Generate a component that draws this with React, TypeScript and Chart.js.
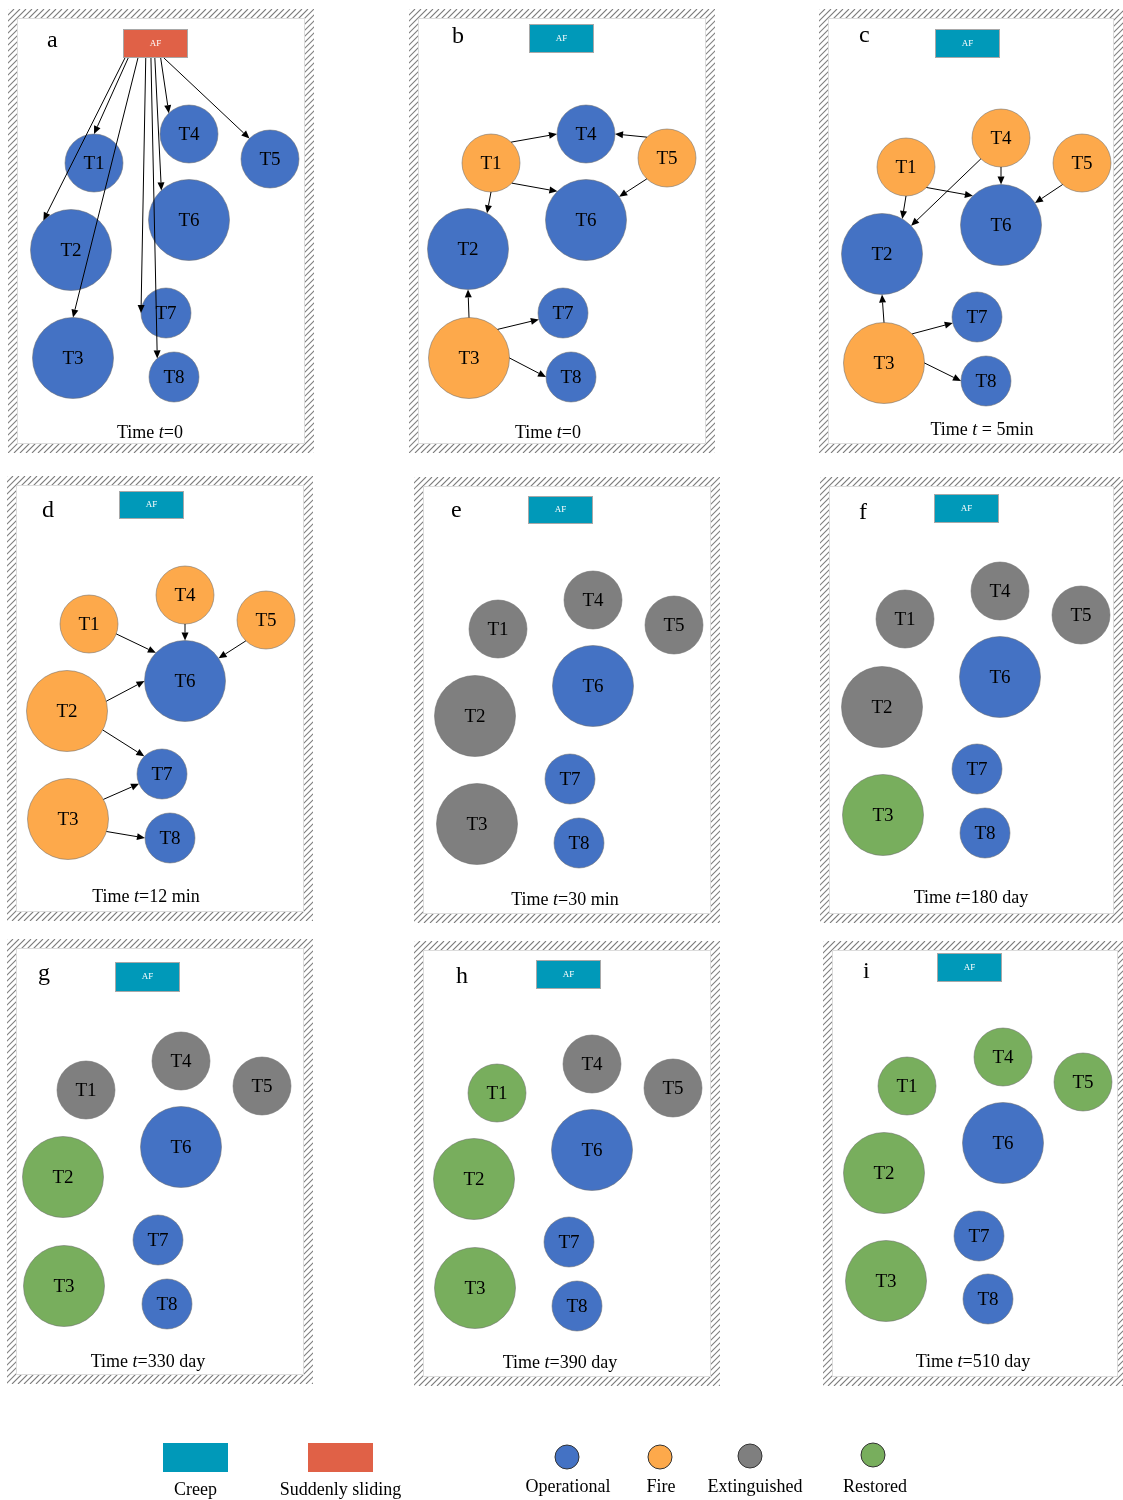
import React, { useEffect, useRef } from "react";
import { Chart, registerables, BubbleController } from "chart.js";

Chart.register(...registerables);
// keep the chart area equal to the whole canvas (no automatic padding for bubble radii)
(BubbleController.prototype as any).getMaxOverflow = function () {
  return false;
};

const W = 1123;
const H = 1500;
const SERIF = "'Liberation Serif', 'Times New Roman', serif";

// ---------- data ----------
const nodeNames = ["T1", "T2", "T3", "T4", "T5", "T6", "T7", "T8"];
const nodeRadius = [29, 40.5, 40.5, 29, 29, 40.5, 25, 25];
const panelLetters = ["a", "b", "c", "d", "e", "f", "g", "h", "i"];
const timeSuffixes = ["=0", "=0", " = 5min", "=12 min", "=30 min", "=180 day", "=330 day", "=390 day", "=510 day"];
const afTriggers = ["Suddenly sliding", "Creep", "Creep", "Creep", "Creep", "Creep", "Creep", "Creep", "Creep"];

const stateNames = ["Operational", "Fire", "Extinguished", "Restored"];
const stateColors = ["#4472C4", "#FDA94B", "#7F7F7F", "#78AE5D"];
const triggerNames = ["Creep", "Suddenly sliding"];
const triggerColors = ["#0099B9", "#E06147"];

// states per panel, T1..T8 (O=Operational, F=Fire, E=Extinguished, R=Restored)
const statesA = ["O", "O", "O", "O", "O", "O", "O", "O"];
const statesB = ["F", "O", "F", "O", "F", "O", "O", "O"];
const statesC = ["F", "O", "F", "F", "F", "O", "O", "O"];
const statesD = ["F", "F", "F", "F", "F", "O", "O", "O"];
const statesE = ["E", "E", "E", "E", "E", "O", "O", "O"];
const statesF = ["E", "E", "R", "E", "E", "O", "O", "O"];
const statesG = ["E", "R", "R", "E", "E", "O", "O", "O"];
const statesH = ["R", "R", "R", "E", "E", "O", "O", "O"];
const statesI = ["R", "R", "R", "R", "R", "O", "O", "O"];
const panelStates = [statesA, statesB, statesC, statesD, statesE, statesF, statesG, statesH, statesI];

// node centres per panel, T1..T8
const nodesA = [[94, 163], [71, 250], [73, 358], [189, 134], [270, 159], [189, 220], [166, 313], [174, 377]];
const nodesB = [[491, 163], [468, 249], [469, 358], [586, 134], [667, 158], [586, 220], [563, 313], [571, 377]];
const nodesC = [[906, 167], [882, 254], [884, 363], [1001, 138], [1082, 163], [1001, 225], [977, 317], [986, 381]];
const nodesD = [[89, 624], [67, 711], [68, 819], [185, 595], [266, 620], [185, 681], [162, 774], [170, 838]];
const nodesE = [[498, 629], [475, 716], [477, 824], [593, 600], [674, 625], [593, 686], [570, 779], [579, 843]];
const nodesF = [[905, 619], [882, 707], [883, 815], [1000, 591], [1081, 615], [1000, 677], [977, 769], [985, 833]];
const nodesG = [[86, 1090], [63, 1177], [64, 1286], [181, 1061], [262, 1086], [181, 1147], [158, 1240], [167, 1304]];
const nodesH = [[497, 1093], [474, 1179], [475, 1288], [592, 1064], [673, 1088], [592, 1150], [569, 1242], [577, 1306]];
const nodesI = [[907, 1086], [884, 1173], [886, 1281], [1003, 1057], [1083, 1082], [1003, 1143], [979, 1236], [988, 1299]];
const panelNodes = [nodesA, nodesB, nodesC, nodesD, nodesE, nodesF, nodesG, nodesH, nodesI];

// layout: frames [x0, y0, x1, y1]
const panelFrames = [
  [8, 9, 314, 453], [409, 9, 715, 453], [819, 9, 1123, 453],
  [7, 476, 313, 921], [414, 477, 720, 923], [820, 477, 1123, 923],
  [7, 939, 313, 1384], [414, 941, 720, 1386], [823, 941, 1127, 1386],
];
const afBoxes = [
  [123, 29, 188, 58], [529, 24, 594, 53], [935, 29, 1000, 58],
  [119, 491, 184, 519], [528, 496, 593, 524], [934, 494, 999, 523],
  [115, 962, 180, 992], [536, 960, 601, 989], [937, 953, 1002, 982],
];
const letterPos = [[47, 47], [452, 43], [859, 42], [42, 517], [451, 517], [859, 519], [38, 980], [456, 983], [863, 978]];
const timePos = [[150, 433], [548, 433], [982, 430], [146, 897], [565, 900], [971, 898], [148, 1362], [560, 1363], [973, 1362]];

// arrows: panel a from AF box [target, fraction along AF bottom, landing angle]
const arrowsA = [["T2", 0.03, -133], ["T1", 0.08, -90], ["T3", 0.23, -90], ["T7", 0.35, 180], ["T8", 0.43, -132], ["T6", 0.49, -133], ["T4", 0.58, -134], ["T5", 0.63, -135]];
// other panels [from, to, leaving angle, landing angle]
const arrowsB = [["T1", "T4", -46, 180], ["T1", "T6", 44, -135], ["T5", "T4", -134, 0], ["T5", "T6", 134, -35], ["T1", "T2", 90, -62], ["T3", "T2", -90, 90], ["T3", "T7", -45, 165], ["T3", "T8", 0, 180]];
const arrowsC = [["T1", "T6", 45, -134], ["T1", "T2", 90, -60], ["T4", "T2", 134, -44], ["T4", "T6", 90, -90], ["T5", "T6", 132, -33], ["T3", "T2", -90, 90], ["T3", "T7", -46, 166], ["T3", "T8", 0, 180]];
const arrowsD = [["T1", "T6", 20, -136], ["T4", "T6", 90, -90], ["T5", "T6", 134, -34], ["T2", "T6", -14, 180], ["T2", "T7", 28, -135], ["T3", "T7", -29, 157], ["T3", "T8", 18, 180]];
const panelArrows = [null, arrowsB, arrowsC, arrowsD, null, null, null, null, null];

const legendTriggerPos = [[163, 1443, 228, 1472], [308, 1443, 373, 1472]];
const legendStatePos = [[567, 1457], [660, 1457], [750, 1456], [873, 1455]];
const legendLabelY = 1489;

const stateCode = ["O", "F", "E", "R"];

function buildDatasets() {
  return stateNames.map((name, si) => {
    const data: any[] = [];
    panelNodes.forEach((nodes, p) => {
      nodes.forEach((c, i) => {
        if (panelStates[p][i] === stateCode[si]) data.push({ x: c[0], y: c[1], r: nodeRadius[i] });
      });
    });
    return {
      label: name,
      data,
      backgroundColor: stateColors[si],
      borderColor: "rgba(110,110,110,0.55)",
      borderWidth: 1,
      hoverRadius: 0,
      clip: false,
    };
  });
}

function drawArrow(ctx: CanvasRenderingContext2D, x1: number, y1: number, x2: number, y2: number) {
  const ang = Math.atan2(y2 - y1, x2 - x1);
  const L = 8, hw = 3.5;
  const bx = x2 - L * Math.cos(ang), by = y2 - L * Math.sin(ang);
  ctx.beginPath();
  ctx.moveTo(x1, y1);
  ctx.lineTo(bx, by);
  ctx.strokeStyle = "#000";
  ctx.lineWidth = 1;
  ctx.stroke();
  ctx.beginPath();
  ctx.moveTo(x2, y2);
  ctx.lineTo(bx + hw * Math.sin(ang), by - hw * Math.cos(ang));
  ctx.lineTo(bx - hw * Math.sin(ang), by + hw * Math.cos(ang));
  ctx.closePath();
  ctx.fillStyle = "#000";
  ctx.fill();
}

const diagramPlugin = {
  id: "diagram",
  beforeDatasetsDraw(chart: any) {
    const ctx: CanvasRenderingContext2D = chart.ctx;
    const X = (v: number) => chart.scales.x.getPixelForValue(v);
    const Y = (v: number) => chart.scales.y.getPixelForValue(v);
    ctx.save();
    ctx.fillStyle = "#fff";
    ctx.fillRect(0, 0, W, H);
    panelFrames.forEach((f, p) => {
      const x0 = X(f[0]), y0 = Y(f[1]), x1 = X(f[2]), y1 = Y(f[3]);
      const b = 9;
      ctx.save();
      ctx.beginPath();
      ctx.rect(x0, y0, x1 - x0, y1 - y0);
      ctx.rect(x0 + b, y0 + b, x1 - x0 - 2 * b, y1 - y0 - 2 * b);
      ctx.clip("evenodd");
      ctx.strokeStyle = "#808080";
      ctx.lineWidth = 1.1;
      ctx.beginPath();
      const h = y1 - y0;
      for (let s = x0 - h; s < x1 + 6; s += 6) {
        ctx.moveTo(s, y1);
        ctx.lineTo(s + h, y0);
      }
      ctx.stroke();
      ctx.restore();
      ctx.strokeStyle = "#dcdcdc";
      ctx.lineWidth = 1;
      ctx.strokeRect(x0 + b + 0.5, y0 + b + 0.5, x1 - x0 - 2 * b - 1, y1 - y0 - 2 * b - 1);

      // AF box
      const a = afBoxes[p];
      const ti = triggerNames.indexOf(afTriggers[p]);
      ctx.fillStyle = triggerColors[ti];
      ctx.fillRect(X(a[0]), Y(a[1]), X(a[2]) - X(a[0]), Y(a[3]) - Y(a[1]));
      ctx.strokeStyle = "#a8a8a8";
      ctx.strokeRect(X(a[0]) + 0.5, Y(a[1]) + 0.5, X(a[2]) - X(a[0]) - 1, Y(a[3]) - Y(a[1]) - 1);
      ctx.fillStyle = "#fff";
      ctx.font = `9px ${SERIF}`;
      ctx.textAlign = "center";
      ctx.textBaseline = "middle";
      ctx.fillText("AF", (X(a[0]) + X(a[2])) / 2, (Y(a[1]) + Y(a[3])) / 2);

      // panel letter
      ctx.fillStyle = "#000";
      ctx.font = `24px ${SERIF}`;
      ctx.textAlign = "left";
      ctx.textBaseline = "alphabetic";
      ctx.fillText(panelLetters[p], X(letterPos[p][0]), Y(letterPos[p][1]));

      // time label
      const parts = [["Time ", false], ["t", true], [timeSuffixes[p], false]] as [string, boolean][];
      let total = 0;
      parts.forEach(([t, it]) => {
        ctx.font = `${it ? "italic " : ""}18px ${SERIF}`;
        total += ctx.measureText(t).width;
      });
      let cx = X(timePos[p][0]) - total / 2;
      ctx.textBaseline = "middle";
      parts.forEach(([t, it]) => {
        ctx.font = `${it ? "italic " : ""}18px ${SERIF}`;
        ctx.fillText(t, cx, Y(timePos[p][1]));
        cx += ctx.measureText(t).width;
      });
    });

    // legend
    ctx.font = `18px ${SERIF}`;
    ctx.textAlign = "center";
    ctx.textBaseline = "middle";
    legendTriggerPos.forEach((r, i) => {
      ctx.fillStyle = triggerColors[i];
      ctx.fillRect(X(r[0]), Y(r[1]), X(r[2]) - X(r[0]), Y(r[3]) - Y(r[1]));
      ctx.fillStyle = "#000";
      ctx.fillText(triggerNames[i], (X(r[0]) + X(r[2])) / 2, Y(legendLabelY + 1));
    });
    legendStatePos.forEach((c, i) => {
      ctx.beginPath();
      ctx.arc(X(c[0]), Y(c[1]), 12, 0, Math.PI * 2);
      ctx.fillStyle = stateColors[i];
      ctx.fill();
      ctx.strokeStyle = "#333";
      ctx.lineWidth = 1;
      ctx.stroke();
      ctx.fillStyle = "#000";
      ctx.fillText(stateNames[i], X(c[0]) + (i === 2 ? 5 : i === 3 ? 2 : 1), Y(legendLabelY - 2));
    });
    ctx.restore();
  },
  afterDatasetsDraw(chart: any) {
    const ctx: CanvasRenderingContext2D = chart.ctx;
    const X = (v: number) => chart.scales.x.getPixelForValue(v);
    const Y = (v: number) => chart.scales.y.getPixelForValue(v);
    const rad = (d: number) => (d * Math.PI) / 180;
    ctx.save();
    const edge = (p: number, name: string, deg: number) => {
      const i = nodeNames.indexOf(name);
      const c = panelNodes[p][i];
      const r = nodeRadius[i];
      return [X(c[0] + r * Math.cos(rad(deg))), Y(c[1] + r * Math.sin(rad(deg)))];
    };
    // panel a: from AF box
    const a = afBoxes[0];
    arrowsA.forEach(([t, frac, deg]) => {
      const sx = X(a[0] + (a[2] - a[0]) * (frac as number));
      const sy = Y(a[3]);
      const [ex, ey] = edge(0, t as string, deg as number);
      drawArrow(ctx, sx, sy, ex, ey);
    });
    panelArrows.forEach((arr, p) => {
      if (!arr) return;
      arr.forEach(([f, t, d1, d2]) => {
        const [sx, sy] = edge(p, f as string, d1 as number);
        const [ex, ey] = edge(p, t as string, d2 as number);
        drawArrow(ctx, sx, sy, ex, ey);
      });
    });
    // node labels
    ctx.fillStyle = "#000";
    ctx.font = `19px ${SERIF}`;
    ctx.textAlign = "center";
    ctx.textBaseline = "middle";
    panelNodes.forEach((nodes) => {
      nodes.forEach((c, i) => {
        ctx.fillText(nodeNames[i], X(c[0]), Y(c[1]) + 1);
      });
    });
    ctx.restore();
  },
};

export default function App() {
  const ref = useRef<HTMLCanvasElement>(null);
  useEffect(() => {
    if (!ref.current) return;
    const chart = new Chart(ref.current, {
      type: "bubble",
      data: { datasets: buildDatasets() as any },
      options: {
        responsive: false,
        animation: false,
        events: [],
        layout: { padding: 0 },
        scales: {
          x: { type: "linear", min: 0, max: W, display: false },
          y: { type: "linear", min: 0, max: H, reverse: true, display: false },
        },
        plugins: { legend: { display: false }, tooltip: { enabled: false } },
      } as any,
      plugins: [diagramPlugin],
    });
    return () => chart.destroy();
  }, []);
  return (
    <div style={{ position: "absolute", left: 0, top: 0, width: W, height: H, background: "#fff" }}>
      <canvas ref={ref} width={W} height={H} style={{ width: W, height: H, display: "block" }} />
    </div>
  );
}
